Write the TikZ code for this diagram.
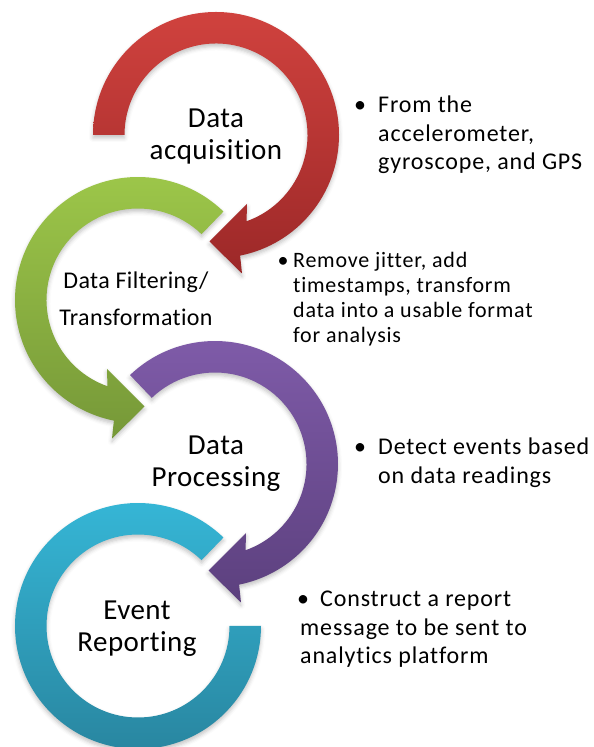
\documentclass[tikz,border=0pt]{standalone}
\usepackage{fontspec}
\setmainfont{Carlito}[Ligatures=NoCommon]
\newfontfamily\labelfont{Carlito}[Ligatures=NoCommon, LetterSpace=1.5]
\newfontfamily\notefont{Carlito}[Ligatures=NoCommon, LetterSpace=3.5]
\usetikzlibrary{shadows.blur}

\definecolor{redtop}{RGB}{208,66,62}
\definecolor{redbot}{RGB}{156,40,40}
\definecolor{greentop}{RGB}{158,200,74}
\definecolor{greenbot}{RGB}{118,152,56}
\definecolor{purpletop}{RGB}{128,92,170}
\definecolor{purplebot}{RGB}{92,64,126}
\definecolor{bluetop}{RGB}{54,184,216}
\definecolor{bluebot}{RGB}{40,132,158}

% Clockwise ring arrow around the local origin, starting at angle #1,
% ending in an arrowhead just left of the bottom.
\newcommand{\cwringarrow}[1]{(#1:123) arc[start angle=#1, end angle=-78.7, radius=123]
  -- (26,-138.5) -- (-6.5,-106.5) -- (31,-69)
  -- (-70.5:91.5) arc[start angle=-70.5, end angle=#1, radius=91.5] -- cycle}

\newcommand{\linesof}[2]{\begin{tabular}[t]{@{}#1@{}}#2\end{tabular}}

\tikzset{
  ring/.style={blur shadow={shadow xshift=0pt, shadow yshift=-3pt,
      shadow blur radius=4pt, shadow opacity=24}},
  stagelabel/.style={anchor=base, inner sep=0pt, font=\labelfont\fontsize{29}{31.5}\selectfont},
  note/.style={anchor=base west, inner sep=0pt, font=\notefont\fontsize{24}{28.5}\selectfont},
  dot/.style={anchor=base, inner sep=0pt, font=\fontsize{24}{28.5}\selectfont},
}

\begin{document}
\begin{tikzpicture}[x=1pt, y=1pt]
  \useasboundingbox (0,0) rectangle (594,747);

  % ring arrows
  \begin{scope}[shift={(216,612)}]
    \path[ring, top color=redtop, bottom color=redbot] \cwringarrow{180};
  \end{scope}
  \begin{scope}[shift={(138,447)}, xscale=-1]
    \path[ring, top color=greentop, bottom color=greenbot] \cwringarrow{134};
  \end{scope}
  \begin{scope}[shift={(215,283)}]
    \path[ring, top color=purpletop, bottom color=purplebot] \cwringarrow{133.7};
  \end{scope}
  \begin{scope}[shift={(138,121)}]
    \path[ring, top color=bluetop, bottom color=bluebot]
      (46:123) arc[start angle=46, end angle=360, radius=123]
      -- (0:91.5) arc[start angle=360, end angle=46, radius=91.5] -- cycle;
  \end{scope}

  % stage labels
  \node[stagelabel] (acq) at (216,619) {\linesof{c}{Data\\acquisition}};
  \node[stagelabel, font=\labelfont\fontsize{24}{37}\selectfont] (filt) at (136,458)
    {\linesof{c}{Data Filtering/\\Transformation}};
  \node[stagelabel] (proc) at (216,292) {\linesof{c}{Data\\Processing}};
  \node[stagelabel] (evt) at (137,127) {\linesof{c}{Event\\Reporting}};

  % notes
  \node[dot] (b1) at (360,634) {•};
  \node[note] (n1) at (378,634) {\linesof{l}{From the\\accelerometer,\\gyroscope, and GPS}};
  \node[dot, font=\fontsize{22}{25}\selectfont] (b2) at (283,479) {•};
  \node[note, font=\notefont\fontsize{22}{25}\selectfont] (n2) at (293,479)
    {\linesof{l}{Remove jitter, add\\timestamps, transform\\data into a usable format\\for analysis}};
  \node[dot] (b3) at (360,292) {•};
  \node[note] (n3) at (378,292) {\linesof{l}{Detect events based\\on data readings}};
  \node[dot] (b4) at (303,140) {•};
  \node[note] (n4) at (300,140)
    {\linesof{l}{\hspace*{20pt}Construct a report\\message to be sent to\\analytics platform}};
\end{tikzpicture}
\end{document}
